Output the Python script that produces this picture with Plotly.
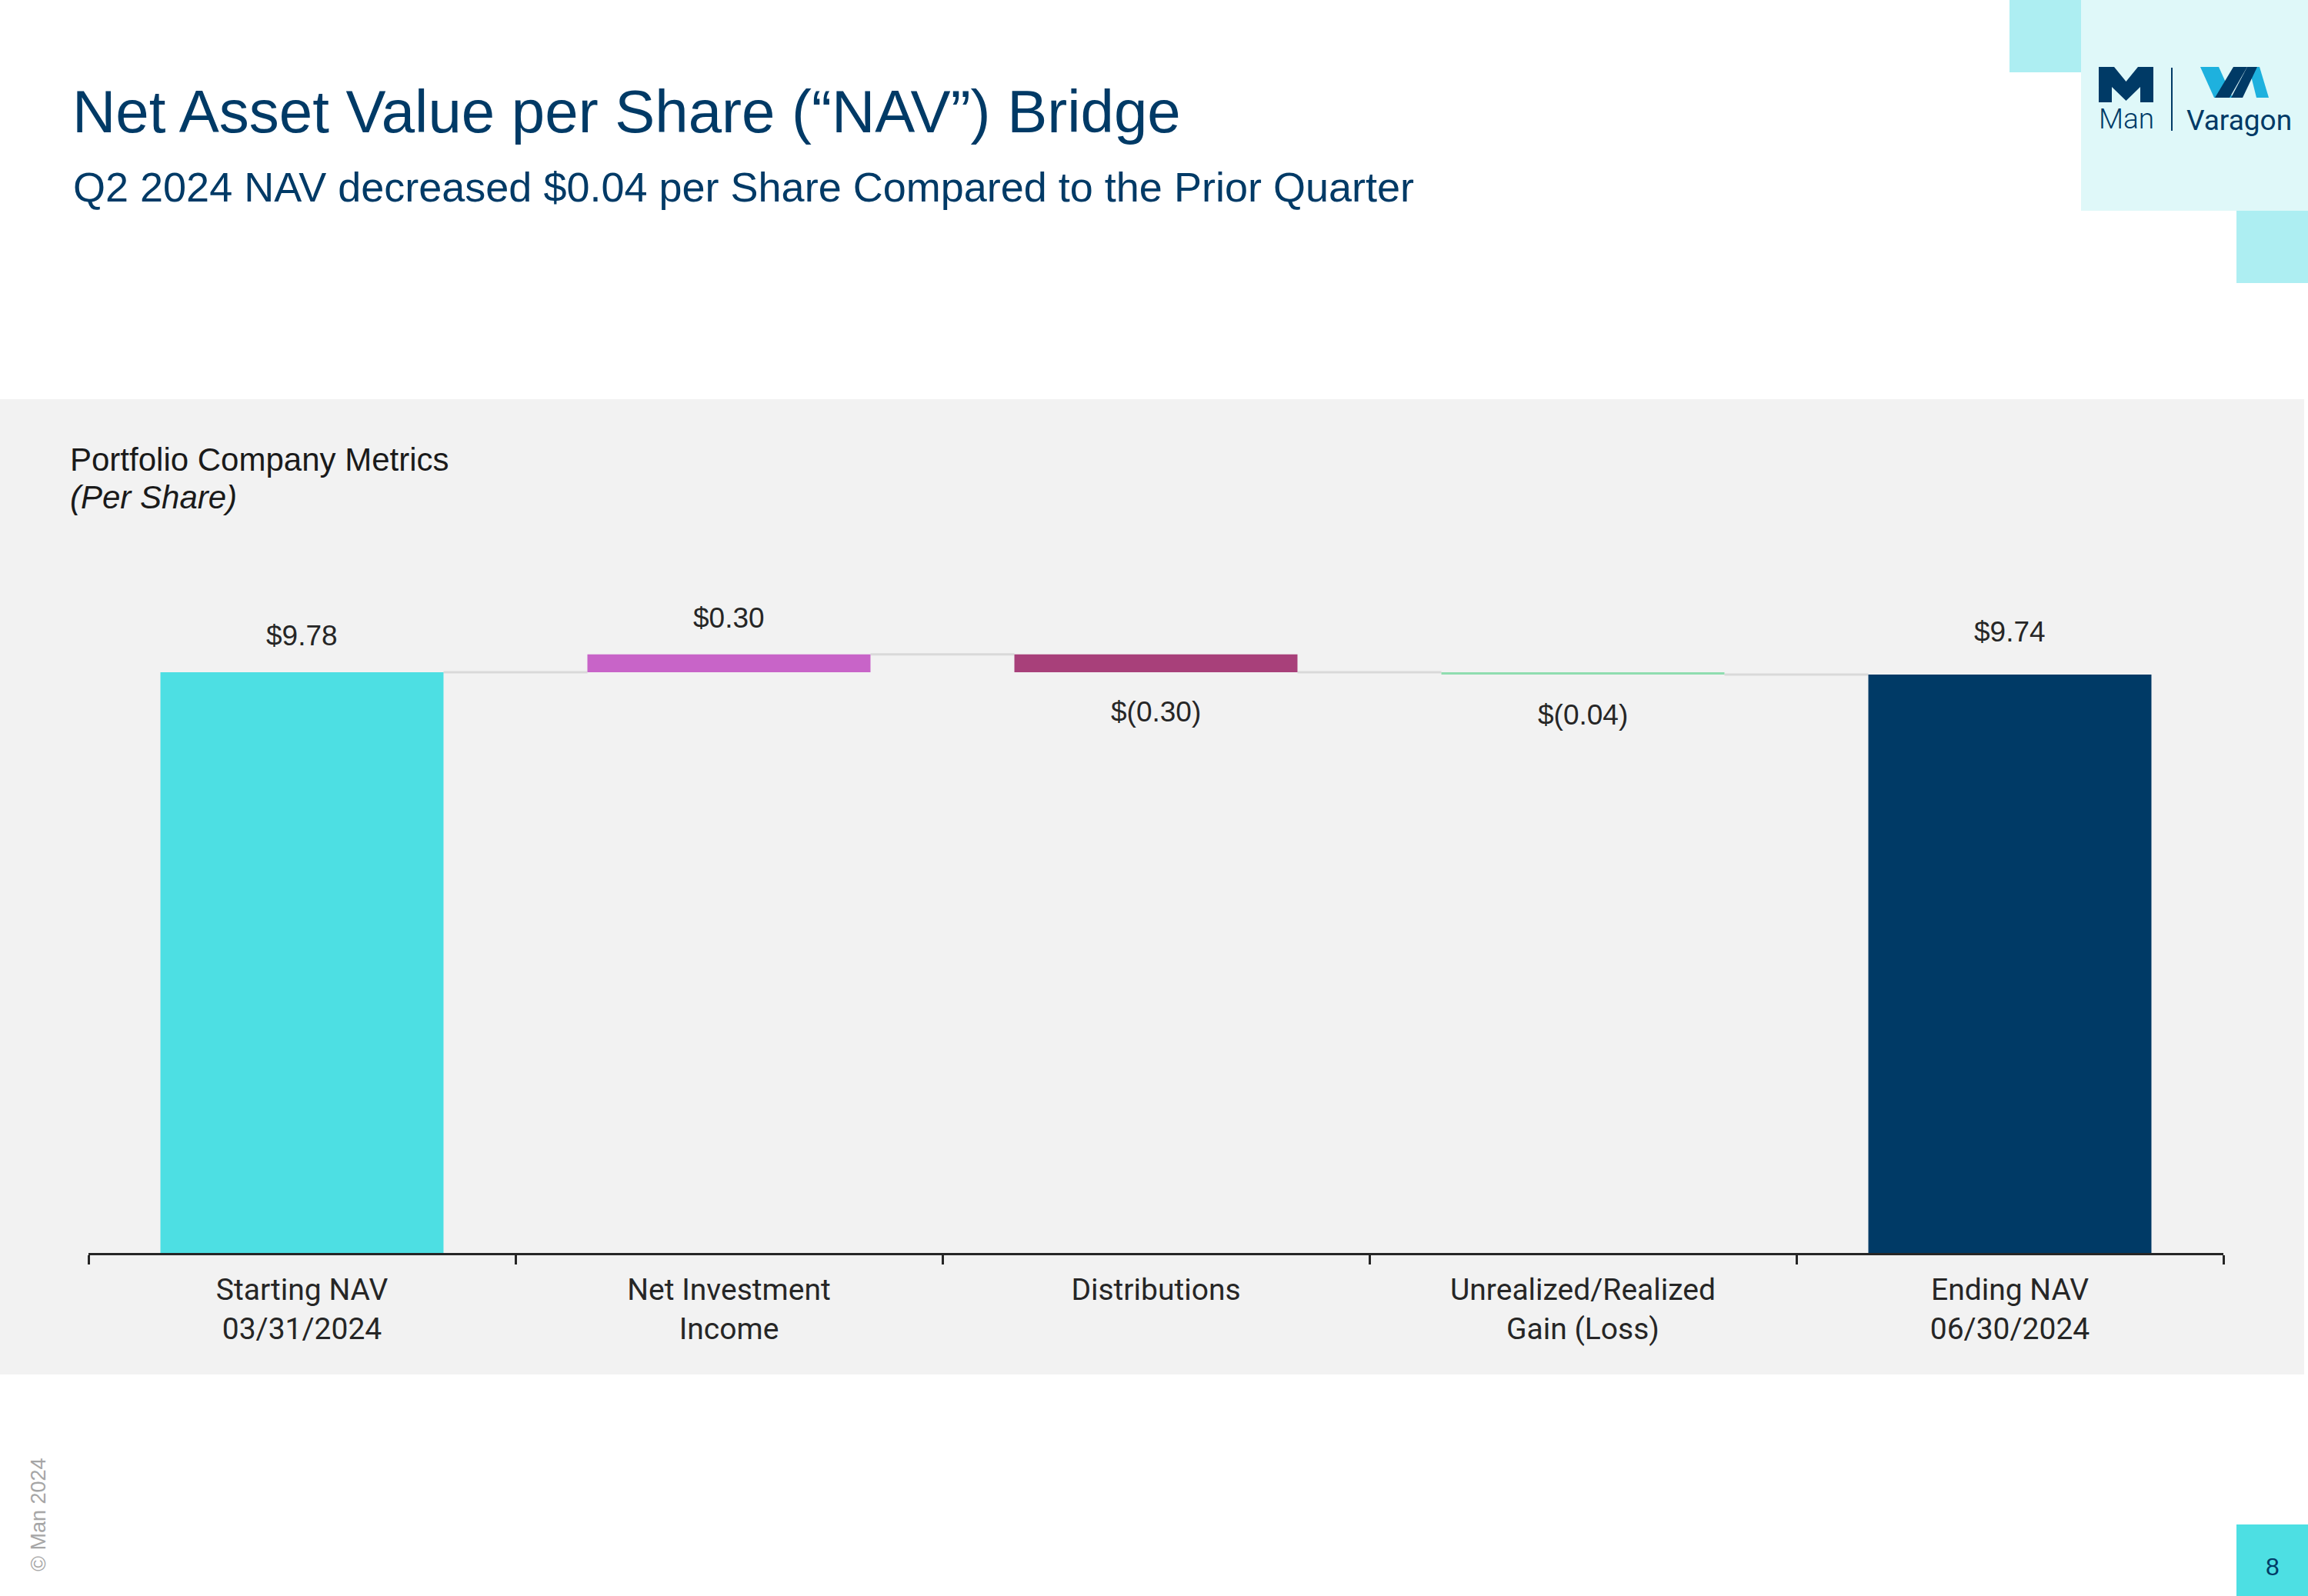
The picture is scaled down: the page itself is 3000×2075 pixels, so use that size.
import plotly.graph_objects as go

# ---------------- data ----------------
categories = ["Starting NAV<br>03/31/2024", "Net Investment<br>Income", "Distributions",
              "Unrealized/Realized<br>Gain (Loss)", "Ending NAV<br>06/30/2024"]
measures = ["absolute", "relative", "relative", "relative", "total"]
values = [9.78, 0.30, -0.30, -0.04, 9.74]
bar_colors = ["#4DDFE3", "#C864C8", "#A8407A", "#8FDDB0", "#003A66"]

W, H = 3000, 2075
def px(x):
    return x / W
def py(y):
    return 1 - y / H

# compute floating bar bases from the data
bases, heights = [], []
running = 0.0
for m, v in zip(measures, values):
    if m == "absolute":
        bases.append(0.0); heights.append(v); running = v
    elif m == "relative":
        bases.append(running); heights.append(v); running += v
    else:
        bases.append(0.0); heights.append(running)

def fmt(v):
    return f"${v:.2f}" if v >= 0 else f"$({abs(v):.2f})"

fig = go.Figure()

# waterfall trace: supplies connectors only
fig.add_trace(go.Waterfall(
    x=categories, y=values, measure=measures, width=0.663,
    increasing=dict(marker=dict(color="rgba(0,0,0,0)", line=dict(width=0))),
    decreasing=dict(marker=dict(color="rgba(0,0,0,0)", line=dict(width=0))),
    totals=dict(marker=dict(color="rgba(0,0,0,0)", line=dict(width=0))),
    connector=dict(mode="between", line=dict(color="#D9D9D9", width=3)),
    textinfo="none", hoverinfo="skip", showlegend=False,
))

fig.add_trace(go.Bar(
    x=categories, y=heights, base=bases, width=0.663,
    marker=dict(color=bar_colors, line=dict(width=0)),
    showlegend=False, hoverinfo="x+y",
))

annotations = []
for c, m, v, b, h in zip(categories, measures, values, bases, heights):
    top = max(b, b + h)
    bot = min(b, b + h)
    if m != "total" and v < 0:
        annotations.append(dict(x=c, y=bot, xref="x", yref="y", text=fmt(v), showarrow=False,
                                yshift=-52, yanchor="middle",
                                font=dict(family="Liberation Sans, Arial", size=37, color="#262626")))
    else:
        shift = 56 if m == "total" else 47
        annotations.append(dict(x=c, y=top, xref="x", yref="y", text=fmt(h if m == "total" else v),
                                showarrow=False, yshift=shift, yanchor="middle",
                                font=dict(family="Liberation Sans, Arial", size=37, color="#262626")))

navy = "#003A66"
sans = "Liberation Sans, Arial"
annotations += [
    dict(x=px(92), y=py(145), xref="paper", yref="paper", xanchor="left", yanchor="middle",
         text="Net Asset Value per Share (\u201cNAV\u201d) Bridge", showarrow=False,
         font=dict(family=sans, size=78, color=navy)),
    dict(x=px(93), y=py(243), xref="paper", yref="paper", xanchor="left", yanchor="middle",
         text="Q2 2024 NAV decreased $0.04 per Share Compared to the Prior Quarter", showarrow=False,
         font=dict(family=sans, size=54, color=navy)),
    dict(x=px(89), y=py(598), xref="paper", yref="paper", xanchor="left", yanchor="middle",
         text="Portfolio Company Metrics", showarrow=False,
         font=dict(family=sans, size=42, color="#1A1A1A")),
    dict(x=px(89), y=py(647), xref="paper", yref="paper", xanchor="left", yanchor="middle",
         text="<i>(Per Share)</i>", showarrow=False,
         font=dict(family=sans, size=42, color="#1A1A1A")),
    dict(x=px(50), y=py(1969), xref="paper", yref="paper", xanchor="center", yanchor="middle",
         text="\u00a9 Man 2024", textangle=-90, showarrow=False,
         font=dict(family=sans, size=27, color="#A6A6A6")),
    dict(x=px(2954), y=py(2037), xref="paper", yref="paper", xanchor="center", yanchor="middle",
         text="8", showarrow=False, font=dict(family=sans, size=32, color=navy)),
    dict(x=px(2764), y=py(155), xref="paper", yref="paper", xanchor="center", yanchor="middle",
         text="Man", showarrow=False, font=dict(family="Roboto", size=37, color=navy, weight=300)),
    dict(x=px(2910), y=py(157), xref="paper", yref="paper", xanchor="center", yanchor="middle",
         text="Varagon", showarrow=False, font=dict(family="Roboto", size=37, color=navy)),
]

def rect(x0, y0, x1, y1, color, layer="below"):
    return dict(type="rect", xref="paper", yref="paper", x0=px(x0), x1=px(x1), y0=py(y1), y1=py(y0),
                fillcolor=color, line=dict(width=0), layer=layer)

def poly(points, color):
    d = "M " + " L ".join(f"{px(x):.5f},{py(y):.5f}" for x, y in points) + " Z"
    return dict(type="path", xref="paper", yref="paper", path=d, fillcolor=color,
                line=dict(width=0), layer="above")

light_blue = "#1EB1DE"
shapes = [
    rect(0, 519, 2995, 1787, "#F2F2F2"),
    rect(2705, 0, 3000, 274, "#DFF8F9"),
    rect(2612, 0, 2705, 94, "#ADEEF2"),
    rect(2907, 274, 3000, 368, "#ADEEF2"),
    rect(2907, 1982, 3000, 2075, "#4DDFE3"),
    # Man "M" mark
    poly([(2728, 87), (2748, 87), (2763.5, 106), (2779, 87), (2799, 87), (2799, 133), (2782, 133),
          (2782, 113), (2763.5, 131), (2745, 113), (2745, 133), (2728, 133)], navy),
    # divider
    dict(type="line", xref="paper", yref="paper", x0=px(2823), x1=px(2823), y0=py(88), y1=py(170),
         line=dict(color=navy, width=2), layer="above"),
    # VA mark
    poly([(2860, 87), (2884, 87), (2902, 127), (2878, 127)], light_blue),
    poly([(2923, 87), (2937, 87), (2949, 127), (2933, 127)], light_blue),
    poly([(2903, 87), (2921, 87), (2898, 127), (2879, 127)], navy),
    poly([(2921, 87), (2934, 87), (2915, 127), (2900, 127)], navy),
]

y_top = 12.0
fig.update_layout(
    width=W, height=H,
    margin=dict(l=0, r=0, t=0, b=0),
    paper_bgcolor="white", plot_bgcolor="rgba(0,0,0,0)",
    showlegend=False,
    annotations=annotations,
    shapes=shapes,
    xaxis=dict(domain=[px(115), px(2890)], type="category", range=[-0.5, 4.5],
               showline=True, linecolor="#262626", linewidth=3,
               ticks="outside", tickson="boundaries", ticklen=12, tickwidth=3, tickcolor="#262626",
               ticklabelstandoff=11,
               tickfont=dict(family="Roboto", size=39, color="#262626"),
               showgrid=False, zeroline=False, fixedrange=True),
    yaxis=dict(domain=[py(1629), py(1629 - 77.2 * y_top)], range=[0, y_top],
               showline=False, showgrid=False, zeroline=False, showticklabels=False,
               ticks="", fixedrange=True),
)

fig.write_html("out.html", config={"displayModeBar": False})
